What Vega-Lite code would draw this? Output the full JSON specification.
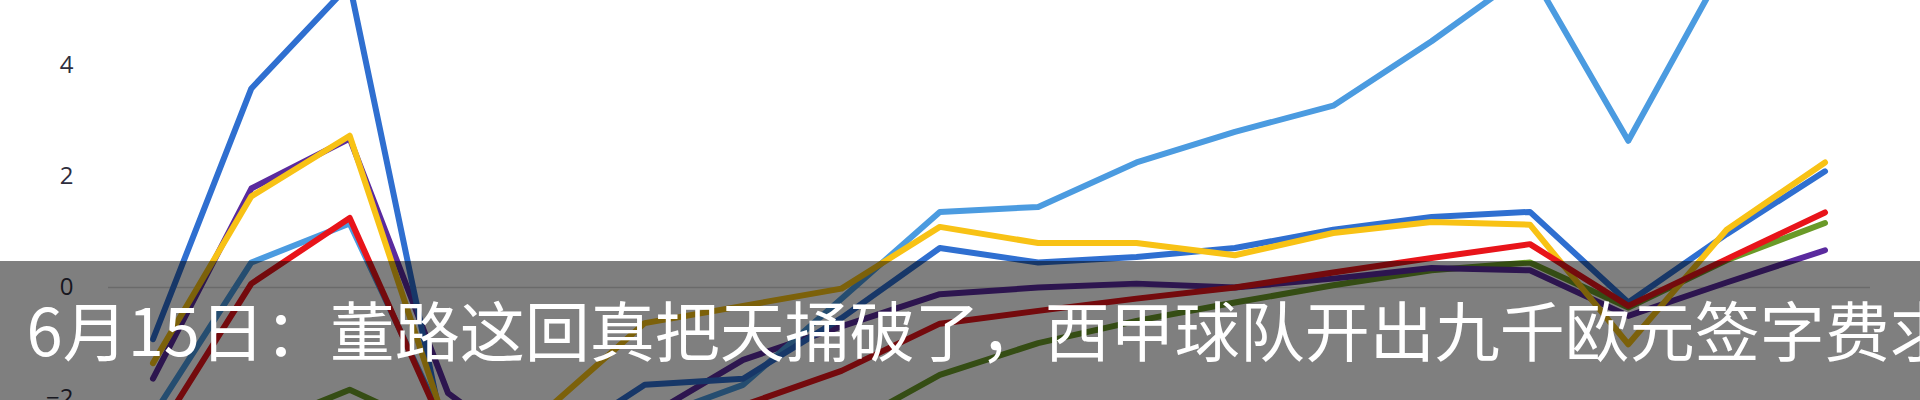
{
  "$schema": "https://vega.github.io/schema/vega-lite/v6.json",
  "width": 1762,
  "height": 400,
  "autosize": {"type": "none"},
  "padding": {"left": 108, "top": 0, "right": 50, "bottom": 0},
  "background": "white",
  "config": {"view": {"stroke": null}},
  "datasets": {
    "series": [
      {"s": "G", "i": 0, "v": -3.0}, {"s": "G", "i": 1, "v": -2.55}, {"s": "G", "i": 2, "v": -1.84}, {"s": "G", "i": 3, "v": -2.65}, {"s": "G", "i": 4, "v": -3.0}, {"s": "G", "i": 5, "v": -3.0}, {"s": "G", "i": 6, "v": -3.0}, {"s": "G", "i": 7, "v": -2.55}, {"s": "G", "i": 8, "v": -1.57}, {"s": "G", "i": 9, "v": -1.0}, {"s": "G", "i": 10, "v": -0.6}, {"s": "G", "i": 11, "v": -0.27}, {"s": "G", "i": 12, "v": 0.04}, {"s": "G", "i": 13, "v": 0.31}, {"s": "G", "i": 14, "v": 0.45}, {"s": "G", "i": 15, "v": -0.36}, {"s": "G", "i": 16, "v": 0.49}, {"s": "G", "i": 17, "v": 1.16},
      {"s": "P", "i": 0, "v": -1.64}, {"s": "P", "i": 1, "v": 1.78}, {"s": "P", "i": 2, "v": 2.68}, {"s": "P", "i": 3, "v": -1.9}, {"s": "P", "i": 4, "v": -3.2}, {"s": "P", "i": 5, "v": -2.35}, {"s": "P", "i": 6, "v": -1.3}, {"s": "P", "i": 7, "v": -0.7}, {"s": "P", "i": 8, "v": -0.12}, {"s": "P", "i": 9, "v": 0.0}, {"s": "P", "i": 10, "v": 0.07}, {"s": "P", "i": 11, "v": 0.0}, {"s": "P", "i": 12, "v": 0.16}, {"s": "P", "i": 13, "v": 0.35}, {"s": "P", "i": 14, "v": 0.31}, {"s": "P", "i": 15, "v": -0.51}, {"s": "P", "i": 16, "v": 0.09}, {"s": "P", "i": 17, "v": 0.67},
      {"s": "LB", "i": 0, "v": -2.3}, {"s": "LB", "i": 1, "v": 0.45}, {"s": "LB", "i": 2, "v": 1.15}, {"s": "LB", "i": 3, "v": -2.6}, {"s": "LB", "i": 4, "v": -2.8}, {"s": "LB", "i": 5, "v": -2.4}, {"s": "LB", "i": 6, "v": -1.75}, {"s": "LB", "i": 7, "v": -0.2}, {"s": "LB", "i": 8, "v": 1.36}, {"s": "LB", "i": 9, "v": 1.45}, {"s": "LB", "i": 10, "v": 2.25}, {"s": "LB", "i": 11, "v": 2.8}, {"s": "LB", "i": 12, "v": 3.27}, {"s": "LB", "i": 13, "v": 4.43}, {"s": "LB", "i": 14, "v": 5.7}, {"s": "LB", "i": 15, "v": 2.64}, {"s": "LB", "i": 16, "v": 5.85}, {"s": "LB", "i": 17, "v": 6.6},
      {"s": "DB", "i": 0, "v": -0.93}, {"s": "DB", "i": 1, "v": 3.58}, {"s": "DB", "i": 2, "v": 5.45}, {"s": "DB", "i": 3, "v": -3.0}, {"s": "DB", "i": 4, "v": -2.9}, {"s": "DB", "i": 5, "v": -1.75}, {"s": "DB", "i": 6, "v": -1.64}, {"s": "DB", "i": 7, "v": -0.55}, {"s": "DB", "i": 8, "v": 0.71}, {"s": "DB", "i": 9, "v": 0.45}, {"s": "DB", "i": 10, "v": 0.55}, {"s": "DB", "i": 11, "v": 0.71}, {"s": "DB", "i": 12, "v": 1.04}, {"s": "DB", "i": 13, "v": 1.27}, {"s": "DB", "i": 14, "v": 1.36}, {"s": "DB", "i": 15, "v": -0.27}, {"s": "DB", "i": 16, "v": 0.96}, {"s": "DB", "i": 17, "v": 2.09},
      {"s": "Y", "i": 0, "v": -1.36}, {"s": "Y", "i": 1, "v": 1.64}, {"s": "Y", "i": 2, "v": 2.73}, {"s": "Y", "i": 3, "v": -2.6}, {"s": "Y", "i": 4, "v": -2.2}, {"s": "Y", "i": 5, "v": -0.64}, {"s": "Y", "i": 6, "v": -0.33}, {"s": "Y", "i": 7, "v": -0.02}, {"s": "Y", "i": 8, "v": 1.09}, {"s": "Y", "i": 9, "v": 0.8}, {"s": "Y", "i": 10, "v": 0.8}, {"s": "Y", "i": 11, "v": 0.58}, {"s": "Y", "i": 12, "v": 0.98}, {"s": "Y", "i": 13, "v": 1.18}, {"s": "Y", "i": 14, "v": 1.13}, {"s": "Y", "i": 15, "v": -1.02}, {"s": "Y", "i": 16, "v": 1.04}, {"s": "Y", "i": 17, "v": 2.25},
      {"s": "R", "i": 0, "v": -2.75}, {"s": "R", "i": 1, "v": 0.07}, {"s": "R", "i": 2, "v": 1.25}, {"s": "R", "i": 3, "v": -2.7}, {"s": "R", "i": 4, "v": -2.9}, {"s": "R", "i": 5, "v": -2.6}, {"s": "R", "i": 6, "v": -2.12}, {"s": "R", "i": 7, "v": -1.5}, {"s": "R", "i": 8, "v": -0.65}, {"s": "R", "i": 9, "v": -0.42}, {"s": "R", "i": 10, "v": -0.2}, {"s": "R", "i": 11, "v": 0.0}, {"s": "R", "i": 12, "v": 0.27}, {"s": "R", "i": 13, "v": 0.53}, {"s": "R", "i": 14, "v": 0.78}, {"s": "R", "i": 15, "v": -0.33}, {"s": "R", "i": 16, "v": 0.51}, {"s": "R", "i": 17, "v": 1.35}
    ],
    "overlay": [{"caption": "6月15日：董路这回真把天捅破了，西甲球队开出九千欧元签字费求"}]
  },
  "layer": [
    {
      "data": {"name": "overlay"},
      "mark": {"type": "rule", "color": "#d4d4d4", "strokeWidth": 1.5},
      "encoding": {"y": {"datum": 0, "type": "quantitative"}}
    },
    {
      "data": {"name": "series"},
      "mark": {"type": "line", "strokeWidth": 6, "clip": true, "strokeJoin": "round", "strokeCap": "round"},
      "encoding": {
        "x": {"field": "i", "type": "quantitative", "scale": {"domain": [-0.4575, 17.4575], "nice": false, "zero": false}, "axis": null},
        "y": {"field": "v", "type": "quantitative", "scale": {"domain": [-2.023, 5.171], "nice": false, "zero": false},
              "axis": {"values": [-2, 0, 2, 4], "grid": false, "ticks": false, "domain": false, "title": null, "labelPadding": 35, "labelFontSize": 24, "labelFont": "Open Sans", "labelColor": "#2e2e3e", "labelOverlap": false}},
        "color": {"field": "s", "type": "nominal", "legend": null,
                  "scale": {"domain": ["G", "P", "LB", "DB", "Y", "R"], "range": ["#6a9a28", "#5a2a9e", "#4b9be0", "#2f6fd0", "#f8c215", "#e8141a"]}},
        "order": {"field": "i"}
      }
    },
    {
      "data": {"name": "overlay"},
      "mark": {"type": "rect", "color": "black", "opacity": 0.5, "clip": false},
      "encoding": {
        "x": {"datum": -2, "type": "quantitative"},
        "x2": {"datum": 20},
        "y": {"datum": 0.476, "type": "quantitative"},
        "y2": {"datum": -3}
      }
    },
    {
      "data": {"name": "overlay"},
      "mark": {"type": "text", "align": "left", "baseline": "alphabetic", "font": "Noto Sans CJK SC", "fontSize": 65, "color": "white", "clip": false},
      "encoding": {
        "x": {"datum": -1.285, "type": "quantitative"},
        "y": {"datum": -1.23, "type": "quantitative"},
        "text": {"field": "caption"}
      }
    }
  ]
}
